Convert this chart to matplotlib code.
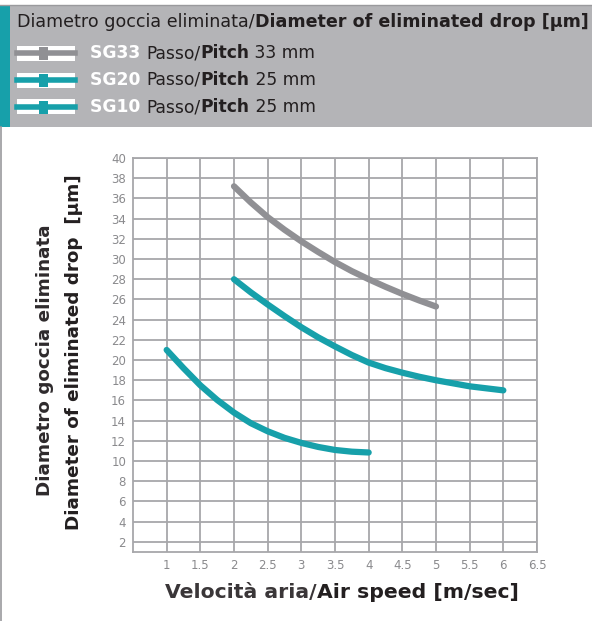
import matplotlib.pyplot as plt
from matplotlib.patches import Rectangle
from matplotlib.lines import Line2D

plt.rcParams["font.family"] = ["DejaVu Sans"]

# (every 0.25 m/s)
sg33_x = [2, 2.25, 2.5, 2.75, 3, 3.25, 3.5, 3.75, 4, 4.25, 4.5, 4.75, 5]
sg33_y = [37.2, 35.6, 34.15, 32.9, 31.75, 30.7, 29.7, 28.8, 28.0, 27.25, 26.55, 25.9, 25.3]
sg20_x = [2, 2.25, 2.5, 2.75, 3, 3.25, 3.5, 3.75, 4, 4.25, 4.5, 4.75, 5, 5.25, 5.5, 5.75, 6]
sg20_y = [28.0, 26.7, 25.5, 24.35, 23.25, 22.25, 21.35, 20.5, 19.75, 19.2, 18.75, 18.35,
          18.0, 17.7, 17.4, 17.2, 17.0]
sg10_x = [1, 1.25, 1.5, 1.75, 2, 2.25, 2.5, 2.75, 3, 3.25, 3.5, 3.75, 4]
sg10_y = [21.0, 19.2, 17.5, 16.05, 14.8, 13.75, 12.95, 12.3, 11.8, 11.4, 11.1, 10.93, 10.85]

series_names = ["SG33", "SG20", "SG10"]
series_pitch = [" 33 mm", " 25 mm", " 25 mm"]
xticks = [1, 1.5, 2, 2.5, 3, 3.5, 4, 4.5, 5, 5.5, 6, 6.5]
yticks = list(range(2, 41, 2))

teal = "#17a0aa"
grey_line = "#909094"
grid_c = "#a7a7aa"
dark = "#231f20"

W, H = 592, 621
fig = plt.figure(figsize=(W / 100, H / 100), dpi=100)
fig.patch.set_facecolor("white")

ax = fig.add_axes([133 / W, 1 - 552 / H, (537 - 133) / W, (552 - 158) / H])
ax.plot(sg33_x, sg33_y, color=grey_line, lw=4.5, solid_capstyle="round",
        solid_joinstyle="round", zorder=3)
ax.plot(sg20_x, sg20_y, color=teal, lw=4.5, solid_capstyle="round",
        solid_joinstyle="round", zorder=3)
ax.plot(sg10_x, sg10_y, color=teal, lw=4.5, solid_capstyle="round",
        solid_joinstyle="round", zorder=3)
ax.set_xlim(0.5, 6.5)
ax.set_ylim(1, 40)
ax.set_xticks(xticks)
ax.set_xticklabels([f"{t:g}" for t in xticks])
ax.set_yticks(yticks)
ax.grid(True, color=grid_c, lw=1.3)
ax.tick_params(length=0, labelsize=8.5, colors="#8a8a8d", pad=5)
for s in ax.spines.values():
    s.set_color(grid_c)
    s.set_linewidth(1.3)

# header box
fig.add_artist(Rectangle((0, 1 - 127 / H), 1, 122 / H, transform=fig.transFigure,
                         facecolor="#b4b4b7", edgecolor="none", zorder=0))
fig.add_artist(Rectangle((0, 1 - 127 / H), 10 / W, 122 / H, transform=fig.transFigure,
                         facecolor=teal, edgecolor="none", zorder=1))
fig.add_artist(Line2D([0, 1], [1 - 5 / H, 1 - 5 / H], transform=fig.transFigure,
                      color="#9a9a9d", lw=1))
fig.add_artist(Line2D([1 / W, 1 / W], [0, 1 - 127 / H], transform=fig.transFigure,
                      color="#9a9a9d", lw=1.2))

fig.canvas.draw()
r = fig.canvas.get_renderer()


def pieces(x, y, parts, size, va="center"):
    # draw text pieces one after another (pixel coords, y from top)
    for txt, weight, col in parts:
        t = fig.text(x / W, 1 - y / H, txt, fontsize=size, fontweight=weight,
                     color=col, ha="left", va=va)
        x += t.get_window_extent(r).width


pieces(17, 22, [("Diametro goccia eliminata/", "normal", dark),
                ("Diameter of eliminated drop [µm]", "bold", dark)], 12.6)

row_y = [53, 80, 107]
colors = [grey_line, teal, teal]
for i in range(3):
    yc = row_y[i]
    fig.add_artist(Rectangle((17 / W, 1 - (yc + 7.5) / H), 58 / W, 15 / H,
                             transform=fig.transFigure, facecolor="white",
                             edgecolor="none"))
    fig.add_artist(Line2D([17 / W, 75 / W], [1 - yc / H, 1 - yc / H],
                          transform=fig.transFigure, color=colors[i], lw=4))
    fig.add_artist(Rectangle((39 / W, 1 - (yc + 6.5) / H), 9 / W, 13 / H,
                             transform=fig.transFigure, facecolor=colors[i],
                             edgecolor="none"))
    pieces(90, yc, [(series_names[i] + " ", "bold", "white"),
                    ("Passo/", "normal", dark),
                    ("Pitch", "bold", dark),
                    (series_pitch[i], "normal", dark)], 12.3)

# axis titles
pieces(165, 593, [("Velocità aria/", "bold", "#3a3638"),
                  ("Air speed [m/sec]", "bold", dark)], 14.7)
fig.text(45 / W, 1 - 360 / H, "Diametro goccia eliminata", fontsize=13.2,
         fontweight="bold", color="#2e2a2c", rotation=90, ha="center", va="center")
fig.text(74 / W, 1 - 352 / H, "Diameter of eliminated drop  [µm]", fontsize=13.2,
         fontweight="bold", color=dark, rotation=90, ha="center", va="center")

fig.savefig("out.png", dpi=100)
